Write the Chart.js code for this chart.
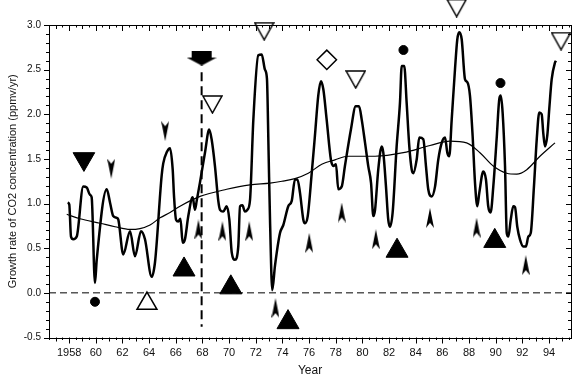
<!DOCTYPE html>
<html>
<head>
<meta charset="utf-8">
<script src="https://cdn.jsdelivr.net/npm/chart.js@4.4.0/dist/chart.umd.min.js"></script>
<style>
  html, body { margin: 0; padding: 0; background: #fff; }
  #wrap { width: 581px; height: 380px; }
</style>
</head>
<body>
<div id="wrap"><canvas id="chart" width="581" height="380"></canvas></div>
<script>
// ── Axis ranges and tick labels ──
const xMin = 1956.49, xMax = 1995.65;
const yMin = -0.5, yMax = 3.0;
const xTickYears = [1958, 1960, 1962, 1964, 1966, 1968, 1970, 1972, 1974, 1976,
                    1978, 1980, 1982, 1984, 1986, 1988, 1990, 1992, 1994];
const xTickLabels = ['1958', '60', '62', '64', '66', '68', '70', '72', '74', '76',
                     '78', '80', '82', '84', '86', '88', '90', '92', '94'];
const yTickValues = [-0.5, 0, 0.5, 1.0, 1.5, 2.0, 2.5, 3.0];
const yTickLabels = ['-0.5', '0.0', '0.5', '1.0', '1.5', '2.0', '2.5', '3.0'];

// ── Growth rate of CO2 (ppmv/yr) ──
const rateYears = [
  1957.89, 1958.01, 1958.14, 1958.31, 1958.57, 1959.06, 1959.32, 1959.56, 1959.69, 1959.94,
  1960.07, 1960.82, 1961.07, 1961.31, 1961.57, 1961.69, 1962.06, 1962.57, 1962.94, 1963.39,
  1963.69, 1964.19, 1964.44, 1964.94, 1965.06, 1965.34, 1965.57, 1965.77, 1965.87, 1966.02,
  1966.19, 1966.35, 1966.52, 1966.69, 1966.94, 1967.27, 1967.44, 1967.57, 1967.82, 1968.19,
  1968.51, 1968.69, 1968.94, 1969.19, 1969.32, 1969.56, 1969.82, 1970.02, 1970.20, 1970.44,
  1970.69, 1970.82, 1971.00, 1971.19, 1971.37, 1971.57, 1971.82, 1972.19, 1972.45, 1972.69,
  1972.84, 1972.96, 1973.07, 1973.24, 1973.44, 1973.82, 1974.07, 1974.44, 1974.70, 1974.94,
  1975.13, 1975.32, 1975.57, 1975.69, 1975.90, 1976.20, 1976.44, 1976.69, 1976.89, 1977.07,
  1977.32, 1977.64, 1977.82, 1978.02, 1978.19, 1978.45, 1978.69, 1979.14, 1979.50, 1979.75,
  1979.95, 1980.20, 1980.44, 1980.65, 1980.82, 1980.95, 1981.19, 1981.45, 1981.57, 1981.77,
  1981.94, 1982.07, 1982.27, 1982.57, 1982.82, 1982.95, 1983.14, 1983.32, 1983.52, 1983.70,
  1983.82, 1984.07, 1984.27, 1984.57, 1984.77, 1984.94, 1985.20, 1985.45, 1985.69, 1985.95,
  1986.20, 1986.37, 1986.52, 1986.70, 1986.95, 1987.12, 1987.27, 1987.45, 1987.70, 1987.87,
  1988.07, 1988.27, 1988.45, 1988.62, 1988.77, 1989.07, 1989.27, 1989.44, 1989.62, 1989.82,
  1990.07, 1990.27, 1990.38, 1990.52, 1990.70, 1990.83, 1990.95, 1991.13, 1991.32, 1991.45,
  1991.62, 1991.82, 1992.07, 1992.27, 1992.45, 1992.63, 1992.87, 1993.08, 1993.27, 1993.45,
  1993.57, 1993.70, 1993.87, 1994.02, 1994.20, 1994.45, 1994.52
];
const rateValues = [
  1.01, 0.99, 0.63, 0.60, 0.63, 1.19, 1.18, 1.10, 1.07, 0.11,
  0.37, 1.16, 1.01, 0.86, 0.84, 0.82, 0.43, 0.69, 0.41, 0.69,
  0.60, 0.18, 0.34, 1.31, 1.45, 1.58, 1.62, 1.38, 1.08, 0.82,
  0.80, 0.83, 0.56, 0.60, 0.86, 1.07, 0.93, 1.03, 1.24, 1.57,
  1.83, 1.72, 1.42, 1.03, 0.93, 0.91, 0.97, 0.82, 0.45, 0.37,
  0.52, 0.97, 0.98, 0.91, 0.93, 1.04, 1.94, 2.66, 2.67, 2.50,
  2.40, 1.60, 0.82, 0.03, 0.30, 0.67, 0.76, 0.97, 1.03, 1.27,
  1.27, 1.12, 0.82, 0.78, 0.86, 1.34, 1.76, 2.21, 2.37, 2.28,
  1.94, 1.49, 1.42, 1.44, 1.16, 1.19, 1.42, 1.83, 2.09, 2.09,
  1.94, 1.68, 1.42, 1.23, 0.86, 0.93, 1.38, 1.64, 1.57, 1.19,
  0.82, 0.74, 0.90, 1.64, 2.13, 2.54, 2.54, 2.13, 1.64, 1.38,
  1.34, 1.49, 1.74, 1.72, 1.42, 1.16, 1.08, 1.19, 1.49, 1.68,
  1.74, 1.57, 1.53, 1.94, 2.51, 2.84, 2.92, 2.84, 2.39, 2.36,
  2.21, 1.76, 1.23, 0.97, 1.12, 1.36, 1.27, 0.97, 0.90, 1.19,
  1.72, 2.17, 2.21, 2.02, 1.42, 0.67, 0.63, 0.82, 0.97, 0.96,
  0.74, 0.60, 0.52, 0.52, 0.63, 0.67, 1.19, 1.72, 2.02, 2.00,
  1.79, 1.64, 1.76, 2.06, 2.39, 2.58, 2.60
];

// ── Smoothed long-term trend ──
const trendYears = [1957.82, 1958.81, 1960.32, 1961.44, 1962.57, 1963.32, 1964.07, 1964.82,
                    1965.57, 1966.32, 1967.82, 1969.82, 1971.57, 1973.07, 1973.97, 1974.94,
                    1975.94, 1976.95, 1977.94, 1978.94, 1980.95, 1983.07, 1985.07, 1986.57,
                    1987.82, 1988.82, 1989.82, 1990.83, 1991.58, 1992.33, 1993.32, 1994.45];
const trendValues = [0.88, 0.83, 0.78, 0.74, 0.71, 0.72, 0.76, 0.84,
                     0.90, 0.97, 1.08, 1.16, 1.21, 1.23, 1.25, 1.28,
                     1.34, 1.44, 1.49, 1.53, 1.53, 1.57, 1.65, 1.70,
                     1.68, 1.57, 1.42, 1.34, 1.33, 1.38, 1.53, 1.68];

// ── Reference lines ──
const zeroValue = 0;
const markYear = 1967.94;
const markLineValues = [2.47, -0.38];

// ── Event markers ──
const bigDownYears = [1959.11];
const bigDownValues = [1.50];
const smallDownYears = [1961.16, 1965.21];
const smallDownValues = [1.39, 1.81];
const smallUpYears = [1967.70, 1969.50, 1971.51, 1973.48, 1976.01, 1978.45, 1981.01, 1985.07, 1988.57, 1992.26];
const smallUpValues = [0.71, 0.69, 0.69, -0.17, 0.56, 0.90, 0.60, 0.84, 0.73, 0.31];
const bigUpYears = [1966.62, 1970.13, 1974.42, 1982.60, 1989.93];
const bigUpValues = [0.26, 0.06, -0.33, 0.47, 0.58];
const openUpYears = [1963.84];
const openUpValues = [-0.12];
const openDownYears = [1968.75, 1972.63, 1979.50, 1987.07, 1994.90];
const openDownValues = [2.11, 2.93, 2.39, 3.19, 2.82];
const dotYears = [1959.94, 1983.08, 1990.36];
const dotValues = [-0.10, 2.72, 2.35];
const diamondYears = [1977.33];
const diamondValues = [2.61];
const arrowYears = [markYear];
const arrowValues = [2.63];

const pts = (xs, ys) => xs.map((x, i) => ({ x, y: ys[i] }));

// ── Marker glyphs ──
function arrowHead() {
    const c = document.createElement('canvas');
    c.width = 8; c.height = 20;
    const g = c.getContext('2d');
    g.fillStyle = '#000';
    g.beginPath();
    g.moveTo(4, 0); g.lineTo(8, 20); g.lineTo(4, 15); g.lineTo(0, 20);
    g.closePath(); g.fill();
    return c;
}
function bigArrow() {
    const c = document.createElement('canvas');
    c.width = 30; c.height = 15;
    const g = c.getContext('2d');
    g.fillStyle = '#000';
    g.fillRect(5, 0, 20, 8);
    g.beginPath();
    g.moveTo(0, 7); g.lineTo(30, 7); g.lineTo(15, 15);
    g.closePath(); g.fill();
    return c;
}
function openDown() {
    const c = document.createElement('canvas');
    c.width = 21; c.height = 19;
    const g = c.getContext('2d');
    g.fillStyle = '#fff';
    g.strokeStyle = '#000';
    g.lineWidth = 1.5;
    g.beginPath();
    g.moveTo(1, 1); g.lineTo(20, 1); g.lineTo(10.5, 18);
    g.closePath(); g.fill(); g.stroke();
    return c;
}
const headGlyph = arrowHead();
const arrowGlyph = bigArrow();
const openDownGlyph = openDown();

function markers(xs, ys, style) {
    return Object.assign({
        data: pts(xs, ys),
        showLine: false,
        clip: false,
        pointBorderColor: '#000',
        pointBackgroundColor: '#000',
        pointBorderWidth: 1,
        pointHoverRadius: 0
    }, style);
}

// ── Frame and minor ticks on all four sides ──
const frameTicks = {
    id: 'frameTicks',
    afterDraw(chart) {
        const { ctx, chartArea: a, scales: { x, y } } = chart;
        ctx.save();
        ctx.strokeStyle = '#000';
        ctx.lineWidth = 1;
        ctx.strokeRect(Math.round(a.left) + 0.5, Math.round(a.top) + 0.5,
                       Math.round(a.right - a.left), Math.round(a.bottom - a.top));
        ctx.beginPath();
        for (let v = Math.ceil(xMin * 2) / 2; v <= xMax; v += 0.5) {
            const px = Math.round(x.getPixelForValue(v)) + 0.5;
            const len = v % 2 === 0 ? 6 : (v % 1 === 0 ? 4 : 2.5);
            ctx.moveTo(px, a.bottom); ctx.lineTo(px, a.bottom + len);
            ctx.moveTo(px, a.top); ctx.lineTo(px, a.top + len);
        }
        for (let k = Math.round(yMin * 10); k <= Math.round(yMax * 10); k++) {
            const py = Math.round(y.getPixelForValue(k / 10)) + 0.5;
            const len = k % 5 === 0 ? 5 : 3;
            ctx.moveTo(a.left, py); ctx.lineTo(a.left - len, py);
            ctx.moveTo(a.right, py); ctx.lineTo(a.right - len, py);
        }
        ctx.stroke();
        ctx.restore();
    }
};

const font = "'Liberation Sans', Arial, sans-serif";

new Chart(document.getElementById('chart'), {
    type: 'line',
    data: {
        datasets: [
            markers(arrowYears, arrowValues, { pointStyle: arrowGlyph, pointRadius: 8 }),
            markers(bigDownYears, bigDownValues, { pointStyle: 'triangle', rotation: 180, pointRadius: 12.5 }),
            markers(smallDownYears, smallDownValues, { pointStyle: headGlyph, rotation: 180, pointRadius: 5 }),
            markers(smallUpYears, smallUpValues, { pointStyle: headGlyph, pointRadius: 5 }),
            markers(bigUpYears, bigUpValues, { pointStyle: 'triangle', pointRadius: 12.7 }),
            markers(openUpYears, openUpValues, { pointStyle: 'triangle', pointRadius: 11.5,
                pointBackgroundColor: '#fff', pointBorderWidth: 1.5 }),
            // big radius so the glyph above the plot area is not culled
            markers(openDownYears, openDownValues, { pointStyle: openDownGlyph, pointRadius: 30 }),
            markers(diamondYears, diamondValues, { pointStyle: 'rectRot', pointRadius: 9.7,
                pointBackgroundColor: '#fff', pointBorderWidth: 1.5 }),
            markers(dotYears, dotValues, { pointStyle: 'circle', pointRadius: 4.5 }),
            {
                data: pts(rateYears, rateValues),
                borderColor: '#000',
                borderWidth: 2.5,
                pointRadius: 0,
                cubicInterpolationMode: 'monotone'
            },
            {
                data: pts(trendYears, trendValues),
                borderColor: '#000',
                borderWidth: 1.2,
                pointRadius: 0,
                cubicInterpolationMode: 'monotone'
            },
            {
                data: pts([xMin, xMax], [zeroValue, zeroValue]),
                borderColor: '#000',
                borderWidth: 1,
                borderDash: [7, 4],
                pointRadius: 0
            },
            {
                data: pts([markYear, markYear], markLineValues),
                borderColor: '#000',
                borderWidth: 2,
                borderDash: [9, 5],
                pointRadius: 0
            }
        ]
    },
    options: {
        responsive: false,
        animation: false,
        events: [],
        layout: { autoPadding: false, padding: { top: 25, right: 10, left: 0, bottom: 0 } },
        plugins: { legend: { display: false }, tooltip: { enabled: false } },
        scales: {
            x: {
                type: 'linear',
                min: xMin,
                max: xMax,
                afterBuildTicks: s => { s.ticks = xTickYears.map(v => ({ value: v })); },
                afterFit: s => { s.height = 42.5; },
                grid: { display: false, drawTicks: false },
                border: { display: false },
                ticks: {
                    autoSkip: false,
                    maxRotation: 0,
                    padding: 9,
                    color: '#111',
                    font: { family: font, size: 11 },
                    callback: v => xTickLabels[xTickYears.indexOf(v)]
                },
                title: {
                    display: true,
                    text: 'Year',
                    color: '#111',
                    font: { family: font, size: 12 },
                    padding: { top: 0, bottom: 2.4 }
                }
            },
            y: {
                min: yMin,
                max: yMax,
                afterBuildTicks: s => { s.ticks = yTickValues.map(v => ({ value: v })); },
                afterFit: s => { s.width = 49; },
                grid: { display: false, drawTicks: false },
                border: { display: false },
                ticks: {
                    padding: 8,
                    color: '#111',
                    font: { family: font, size: 10 },
                    callback: v => yTickLabels[yTickValues.indexOf(v)]
                },
                title: {
                    display: true,
                    text: 'Growth rate of CO2 concentration (ppmv/yr)',
                    color: '#111',
                    font: { family: font, size: 11 },
                    padding: { top: 6, bottom: 0 }
                }
            }
        }
    },
    plugins: [frameTicks]
});
</script>
</body>
</html>
